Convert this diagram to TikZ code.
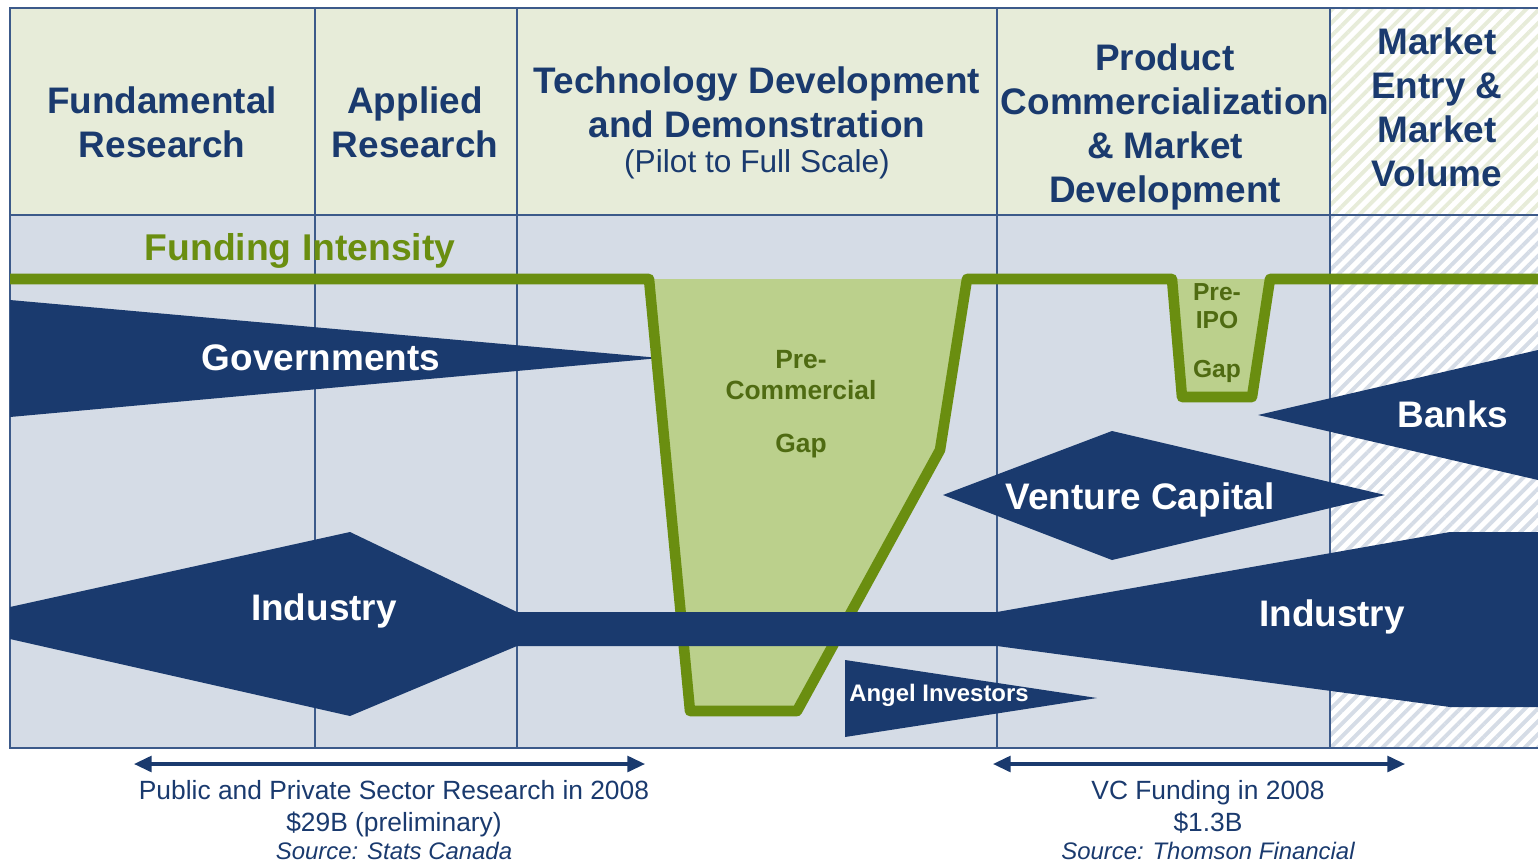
\documentclass[tikz,border=0pt]{standalone}
\usepackage{fontspec}
\setmainfont{Liberation Sans}
\usetikzlibrary{arrows.meta,patterns.meta}
\definecolor{navy}{HTML}{1A3A6E}
\definecolor{headfill}{HTML}{E7ECD9}
\definecolor{bodyfill}{HTML}{D5DCE6}
\definecolor{fundgreen}{HTML}{6A8E10}
\definecolor{gapfill}{HTML}{BBD08C}
\definecolor{gaptext}{HTML}{4F6B12}
\definecolor{gridline}{HTML}{3C5A8A}

\begin{document}
\begin{tikzpicture}[x=0.01cm, y=-0.01cm,
  heading/.style={text=navy, font=\fontsize{10.5}{12.5}\selectfont\bfseries, align=center, inner sep=0pt},
  bandlabel/.style={text=white, font=\fontsize{10.5}{12.5}\selectfont\bfseries, inner sep=0pt},
  gaplabel/.style={text=gaptext, font=\fontsize{7.5}{9}\selectfont\bfseries, align=center, inner sep=0pt},
  note/.style={text=navy, font=\fontsize{7.5}{9}\selectfont, align=center, inner sep=0pt},
  hatch/.style={pattern={Lines[angle=45, distance=2.6pt, line width=1.1pt]}}]
\useasboundingbox (0,0) rectangle (1538,863);

% backgrounds
\fill[headfill] (10,8) rectangle (1538,215);
\fill[bodyfill] (10,215) rectangle (1538,748);
\fill[white] (1330,8) rectangle (1538,748);
\fill[hatch, pattern color=headfill] (1330,8) rectangle (1538,215);
\fill[hatch, pattern color=bodyfill] (1330,215) rectangle (1538,748);

% column grid
\draw[gridline, line width=0.6pt] (1538,8) -- (10,8) -- (10,748) -- (1538,748);
\draw[gridline, line width=0.6pt] (10,215) -- (1538,215);
\foreach \x in {315,517,997,1330}
  \draw[gridline, line width=0.6pt] (\x,8) -- (\x,748);

% headings
\node[heading] (Fundamental Research) at (162,122) {Fundamental\\Research};
\node[heading] (Applied Research) at (415,122) {Applied\\Research};
\node[heading] (Technology Development) at (757,102) {Technology Development\\and Demonstration};
\node[text=navy, font=\fontsize{9}{11}\selectfont, inner sep=0pt] (Pilot Scale) at (757,164) {(Pilot to Full Scale)};
\node[heading] (Product Commercialization) at (1165,127) {Product\\Commercialization\\\& Market\\Development};
\node[heading] (Market Entry) at (1437,107) {Market\\Entry \&\\Market\\Volume};

\node[text=fundgreen, font=\fontsize{10.6}{12.5}\selectfont\bfseries, inner sep=0pt] (Funding Intensity) at (300,251) {Funding Intensity};

% governments
\fill[navy] (10,300) -- (660,358) -- (10,417) -- cycle;
\node[bandlabel] (Governments) at (321,358) {Governments};

% funding gaps
\fill[gapfill] (649,279) -- (690,711) -- (797,711) -- (940,450) -- (967,279) -- cycle;
\fill[gapfill] (1172,279) -- (1182,397) -- (1252,397) -- (1270,279) -- cycle;
\draw[fundgreen, line width=3pt, line join=round] (10,279) -- (649,279) -- (690,711) -- (797,711) -- (940,450) -- (967,279)
  -- (1172,279) -- (1182,397) -- (1252,397) -- (1270,279) -- (1538,279);
\node[gaplabel] (Pre Commercial Gap) at (801,404) {Pre-\\Commercial\\[6pt]Gap};
\node[gaplabel, font=\fontsize{7}{8}\selectfont\bfseries] (Pre IPO Gap) at (1217,333) {Pre-\\IPO\\[6pt]Gap};

% industry
\fill[navy] (10,607) -- (350,532) -- (517,612) -- (997,612) -- (1450,532) -- (1538,532) -- (1538,707)
  -- (1450,707) -- (997,646) -- (517,646) -- (350,716) -- (10,639) -- cycle;
\node[bandlabel] (Industry Left) at (324,611) {Industry};
\node[bandlabel] (Industry Right) at (1332,617) {Industry};

% venture capital, banks, angels
\fill[navy] (943,495) -- (1112,431) -- (1385,495) -- (1112,560) -- cycle;
\node[bandlabel] (Venture Capital) at (1140,500) {Venture Capital};
\fill[navy] (1258,415) -- (1538,350) -- (1538,480) -- cycle;
\node[bandlabel] (Banks) at (1453,414) {Banks};
\fill[navy] (845,660) -- (1097,698) -- (845,737) -- cycle;
\node[bandlabel, font=\fontsize{6.8}{8}\selectfont\bfseries] (Angel Investors) at (939,695) {Angel Investors};

% spans below
\coordinate (Research Start) at (134,764);
\coordinate (Research End) at (645,764);
\coordinate (VC Start) at (993,764);
\coordinate (VC End) at (1405,764);
\draw[navy, line width=0.9pt, {Triangle[length=5pt, width=4.5pt]}-{Triangle[length=5pt, width=4.5pt]}] (Research Start) -- (Research End);
\draw[navy, line width=0.9pt, {Triangle[length=5pt, width=4.5pt]}-{Triangle[length=5pt, width=4.5pt]}] (VC Start) -- (VC End);
\node[note, anchor=north] (Research Total) at (394,780) {Public and Private Sector Research in 2008\\\$29B (preliminary)\\[-1pt]{\fontsize{6.8}{8}\selectfont\itshape Source: Stats Canada}};
\node[note, anchor=north] (VC Total) at (1208,780) {VC Funding in 2008\\\$1.3B\\[-1pt]{\fontsize{6.8}{8}\selectfont\itshape Source: Thomson Financial}};
\end{tikzpicture}
\end{document}
